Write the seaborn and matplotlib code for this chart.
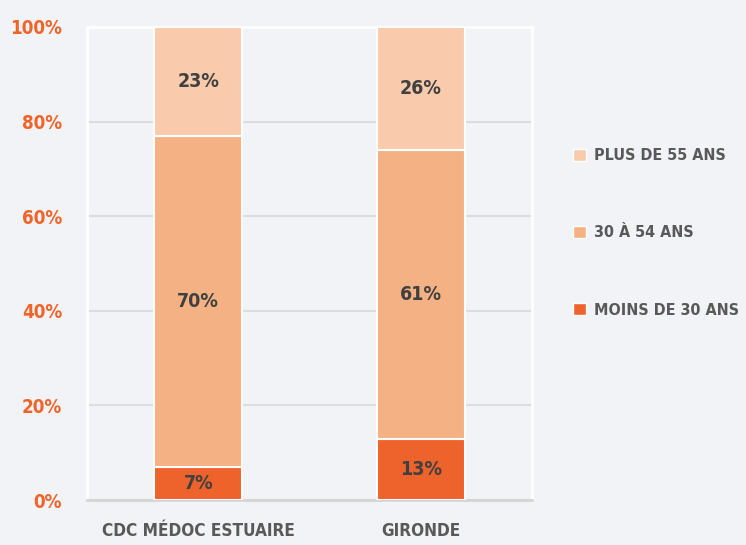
import matplotlib
matplotlib.use('Agg')
import matplotlib.pyplot as plt
import numpy as np
import pandas as pd
import seaborn as sns
from matplotlib import font_manager
from matplotlib.font_manager import FontProperties
from matplotlib.patches import Patch

categories = ['CDC MÉDOC ESTUAIRE', 'GIRONDE']
series_names = ['MOINS DE 30 ANS', '30 À 54 ANS', 'PLUS DE 55 ANS']
moins_30 = [7, 13]
de_30_54 = [70, 61]
plus_55 = [23, 26]
y_ticks = [0, 20, 40, 60, 80, 100]

COLORS = ['#ee622b', '#f4b183', '#f9cbac']
BG = '#f2f3f7'
ORANGE = '#f0642a'
DARK = '#404040'
GREY = '#595959'


def _weight(w):
    if isinstance(w, str):
        return 700 if 'bold' in w.lower() else 400
    return int(w)


def find_condensed_bold():
    # look for any narrow / condensed face installed, bold preferred
    best = None
    for f in font_manager.fontManager.ttflist:
        tag = f'{f.name} {f.fname} {f.stretch}'.lower()
        if not any(k in tag for k in ('condensed', 'narrow')):
            continue
        if 'italic' in f.fname.lower() or 'oblique' in f.fname.lower():
            continue
        score = -abs(_weight(f.weight) - 700)
        if best is None or score > best[0]:
            best = (score, f.fname)
    return best[1] if best else None


font_file = find_condensed_bold()


def fp(size):
    if font_file:
        return FontProperties(fname=font_file, size=size)
    return FontProperties(family='DejaVu Sans', weight='bold', size=size * 0.8)


sns.set_theme(style='white')
plt.rcParams['font.family'] = ['DejaVu Sans']

df = pd.DataFrame({'category': categories, series_names[0]: moins_30,
                   series_names[1]: de_30_54, series_names[2]: plus_55})

fig = plt.figure(figsize=(7.46, 5.45), dpi=100, facecolor=BG)
ax = fig.add_axes([87 / 746, 45 / 545, 445 / 746, 473 / 545])
ax.set_facecolor(BG)

bottom = np.zeros(len(categories))
for name, color in zip(series_names, COLORS):
    vals = df[name].to_numpy(dtype=float)
    sns.barplot(data=df, x='category', y=name, color=color, width=0.395, bottom=bottom,
                edgecolor='white', linewidth=1.5, saturation=1, ax=ax, zorder=3)
    for i, v in enumerate(vals):
        ax.text(i, bottom[i] + v / 2, f'{int(v)}%', ha='center', va='center',
                fontproperties=fp(14), color=DARK, zorder=4)
    bottom += vals

ax.set_xlim(-0.5, 1.5)
ax.set_ylim(0, 100)
ax.set_yticks(y_ticks, [f'{t}%' for t in y_ticks])
ax.tick_params(axis='y', length=0, labelcolor=ORANGE, pad=18)
ax.tick_params(axis='x', length=0, labelcolor=GREY, pad=16)
for lbl in ax.get_yticklabels():
    lbl.set_fontproperties(fp(13.5))
for lbl in ax.get_xticklabels():
    lbl.set_fontproperties(fp(12.3))
ax.set_xlabel('')
ax.set_ylabel('')
ax.yaxis.grid(True, color='#dcdcdc', linewidth=1.5, zorder=0)
ax.set_axisbelow(True)
for side in ['left', 'top', 'right']:
    ax.spines[side].set_color('white')
    ax.spines[side].set_linewidth(2)
ax.spines['bottom'].set_color('#d4d4d4')
ax.spines['bottom'].set_linewidth(2)

handles = [Patch(facecolor=c, edgecolor='white', linewidth=1) for c in COLORS[::-1]]
fig.legend(handles, series_names[::-1], loc='center left', bbox_to_anchor=(559 / 746, 0.5725),
           frameon=False, labelspacing=3.9, handlelength=0.8, handleheight=0.8,
           handletextpad=0.5, labelcolor=GREY, prop=fp(11.5))

fig.savefig('out.png', dpi=100, facecolor=BG)
